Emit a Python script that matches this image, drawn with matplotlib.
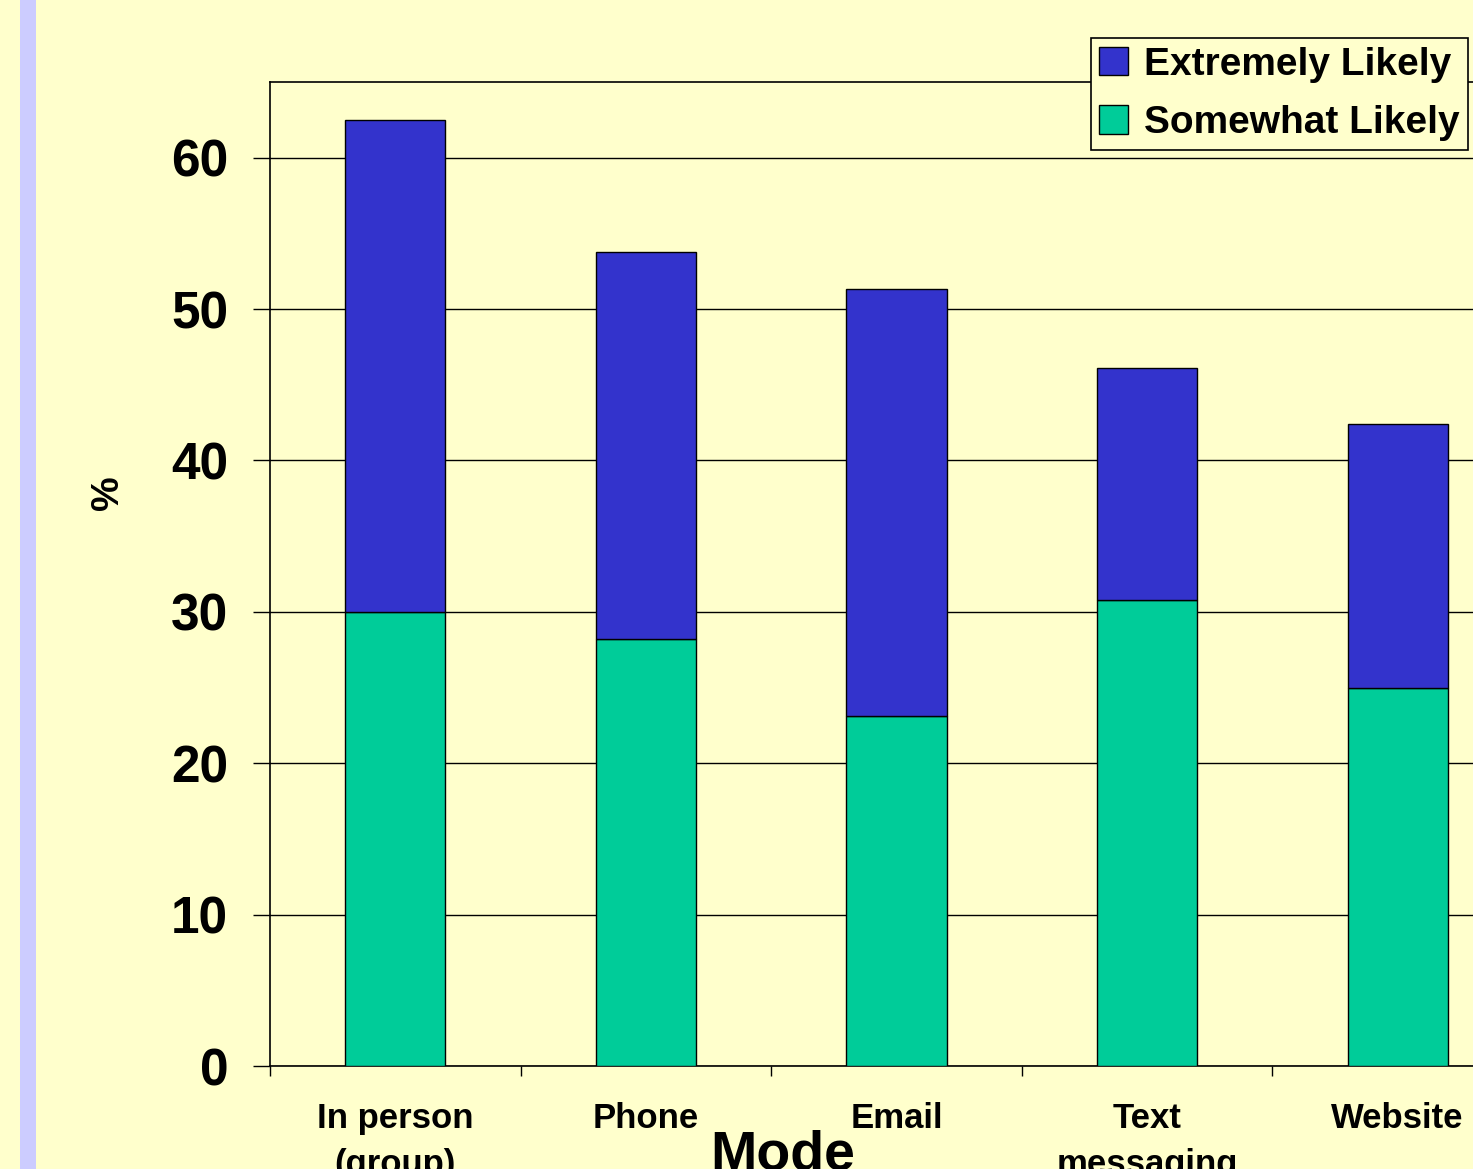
import matplotlib
matplotlib.use("Agg")
import matplotlib.pyplot as plt
from matplotlib.patches import Rectangle
import numpy as np

# data
modes = ["In person\n(group)", "Phone", "Email", "Text\nmessaging", "Website"]
somewhat = [30.0, 28.2, 23.1, 30.8, 25.0]
extremely = [32.5, 25.6, 28.2, 15.3, 17.4]

bg = "#FFFFCC"
W, H = 1473, 1169
plt.rcParams['font.family'] = ['Liberation Sans', 'DejaVu Sans']
plt.rcParams['font.weight'] = 'bold'

fig = plt.figure(figsize=(W / 100, H / 100), dpi=100, facecolor=bg)
fig.patches.append(Rectangle((20 / W, 0), 16 / W, 1, transform=fig.transFigure,
                             facecolor="#CCCCFF", edgecolor="none", zorder=0))

ax = fig.add_axes([270 / W, (H - 1066) / H, 1253 / W, 984 / H])
ax.set_facecolor(bg)

x = np.arange(len(modes))
ax.bar(x, somewhat, width=0.4, color="#00CC99", edgecolor="black", linewidth=1,
       label="Somewhat Likely", zorder=3)
ax.bar(x, extremely, width=0.4, bottom=somewhat, color="#3333CC", edgecolor="black",
       linewidth=1, label="Extremely Likely", zorder=3)

ax.set_xlim(-0.5, 4.5)
ax.set_ylim(0, 65)
ax.set_yticks([0, 10, 20, 30, 40, 50, 60])
ax.yaxis.grid(True, color="black", linewidth=1)
ax.set_axisbelow(True)
ax.tick_params(axis="y", labelsize=37, length=12, width=1, pad=18)

ax.set_xticks(np.arange(-0.5, 5, 1))
ax.set_xticklabels([])
ax.tick_params(axis="x", which="major", length=7, width=1)
ax.set_xticks(x, minor=True)
ax.set_xticklabels(modes, minor=True, fontsize=25, linespacing=1.5)
ax.tick_params(axis="x", which="minor", length=0, pad=26)

for s in ["top", "left", "bottom"]:
    ax.spines[s].set_linewidth(1.2)
ax.spines["right"].set_visible(False)

fig.text(783 / W, 1 - 1129 / H, "Mode", ha="center", va="top", fontsize=40, fontweight="bold")
fig.text(108 / W, 1 - 493 / H, "%", ha="center", va="center", rotation=90,
         fontsize=28, fontweight="bold")

h, l = ax.get_legend_handles_labels()
leg = fig.legend(h[::-1], l[::-1], loc="upper right", bbox_to_anchor=(1468 / W, 1 - 38 / H),
                 fontsize=28, frameon=True, fancybox=False, facecolor=bg, edgecolor="black",
                 framealpha=1, handlelength=0.75, handleheight=0.75, handletextpad=0.4,
                 labelspacing=0.58, borderpad=0.22, borderaxespad=0)
leg.get_frame().set_linewidth(1.2)

fig.savefig("out.png", dpi=100, facecolor=bg)
